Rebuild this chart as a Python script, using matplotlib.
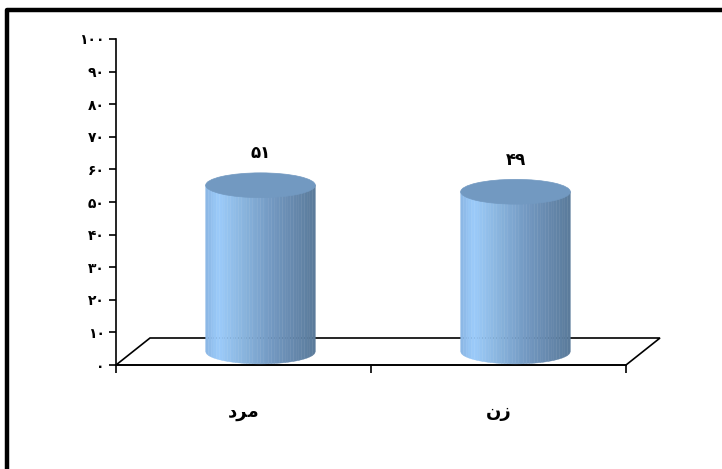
import numpy as np
import matplotlib
matplotlib.use('Agg')
import matplotlib.pyplot as plt
from matplotlib.patches import Ellipse, Polygon
from matplotlib.colors import LinearSegmentedColormap

# 数据
categories = ['\uFEA9\uFEAE\uFEE3', '\uFEE5\uFEAF']   # مرد , زن (visual order)
values = [51, 49]
y_ticks = [0, 10, 20, 30, 40, 50, 60, 70, 80, 90, 100]

fa_digits = str.maketrans('0123456789', '۰۱۲۳۴۵۶۷۸۹')

def fa(n):
    return str(n).translate(fa_digits)

plt.rcParams['font.family'] = ['DejaVu Sans']

fig = plt.figure(figsize=(7.22, 4.69), dpi=100)

# 外框
frame = fig.add_axes([0, 0, 1, 1])
frame.set_xlim(0, 722)
frame.set_ylim(469, 0)
frame.axis('off')
frame.plot([7, 7, 722], [469, 10, 10], color='black', lw=3.2, solid_capstyle='butt')

ax = fig.add_axes([116 / 722, 104 / 469, 510 / 722, 326 / 469])
ax.set_xlim(0, 2)
ax.set_ylim(0, 100)
ax.set_facecolor('none')
for s in ['top', 'right']:
    ax.spines[s].set_visible(False)
ax.spines['left'].set_linewidth(1.2)
ax.spines['bottom'].set_linewidth(1.2)
ax.set_yticks(y_ticks)
ax.set_yticklabels([fa(v) for v in y_ticks], fontsize=10, fontweight='bold')
ax.set_xticks([0, 1, 2])
ax.set_xticklabels([])
ax.tick_params(axis='y', direction='out', length=5, width=1.2, pad=3)
ax.tick_params(axis='x', direction='out', length=6, width=1.2)

# 地板 (3D 深度)
dx = 34 / 255
dy = 27 / 3.26
floor = Polygon([[0, 0], [dx, dy], [2 + dx, dy], [2, 0]], closed=True,
                fill=False, edgecolor='black', lw=1.2, clip_on=False, zorder=2)
ax.add_patch(floor)

cmap = LinearSegmentedColormap.from_list('cyl', [
    (0.0, '#8AB6E4'), (0.12, '#9BCBFA'), (0.3, '#8DB9E3'),
    (0.6, '#7399C2'), (1.0, '#5A7A9A')])

width = 0.43
b = 3.8          # 椭圆半高 (数据单位)
base = dy / 2
n_strips = 40

for i, (cat, val) in enumerate(zip(categories, values)):
    cx = i + 0.5 + dx / 2
    top = base + val
    edges = np.linspace(-1, 1, n_strips + 1)
    for k in range(n_strips):
        u0, u1 = edges[k], edges[k + 1]
        uu = np.linspace(u0, u1, 6)
        xs = cx + uu * width / 2
        ys = base - b * np.sqrt(np.clip(1 - uu ** 2, 0, 1))
        pts = list(zip(xs, ys)) + [(xs[-1], top), (xs[0], top)]
        c = cmap((k + 0.5) / n_strips)
        ax.add_patch(Polygon(pts, closed=True, facecolor=c, edgecolor=c,
                             lw=0.3, zorder=3))
    ax.add_patch(Ellipse((cx, top), width, 2 * b, facecolor='#7299C1',
                         edgecolor='#7299C1', lw=0.5, zorder=4))
    ax.text(cx, val + 14, fa(val), ha='center', va='center',
            fontsize=12, fontweight='bold', zorder=5)
    ax.text(i + 0.5, -14.4, cat, ha='center', va='center',
            fontsize=13, fontweight='bold', clip_on=False)

fig.savefig('out.png', dpi=100)
